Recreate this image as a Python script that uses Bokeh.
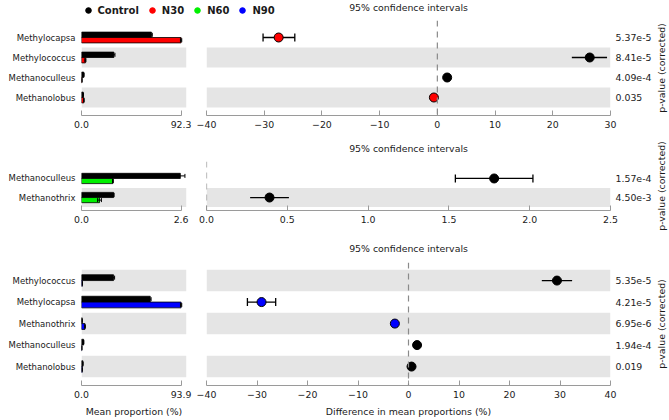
import math
from bokeh.plotting import figure
from bokeh.models import (ColumnDataSource, Range1d, FixedTicker, LinearAxis, Whisker,
                          TeeHead, Span, Legend, LegendItem, Label)
from bokeh.layouts import column, row
from bokeh.embed import file_html
from bokeh.resources import INLINE

# ---------------- data ----------------
groups = ["Control", "N30", "N60", "N90"]
group_colors = ["#000000", "#ff0000", "#00f000", "#0000ff"]

cats1 = ["Methylocapsa", "Methylococcus", "Methanoculleus", "Methanolobus"]
ctrl1 = [64.8, 30.0, 2.1, 1.6]
ctrl1_err = [0.8, 1.0, 0.3, 0.2]
n30 = [92.3, 3.6, 0.4, 2.2]
n30_err = [0.6, 0.5, 0.1, 0.2]
diff1 = [-27.5, 26.4, 1.7, -0.6]
lo1 = [-30.2, 23.3, 1.5, -0.8]
hi1 = [-24.7, 29.4, 1.9, -0.4]
pval1 = ["5.37e-5", "8.41e-5", "4.09e-4", "0.035"]
bar_max1 = 92.3
ci_ticks1 = [-40, -30, -20, -10, 0, 10, 20, 30]

cats2 = ["Methanoculleus", "Methanothrix"]
ctrl2 = [2.58, 0.84]
ctrl2_err = [0.12, 0.01]
n60 = [0.82, 0.47]
n60_err = [0.01, 0.05]
diff2 = [1.78, 0.39]
lo2 = [1.54, 0.27]
hi2 = [2.02, 0.51]
pval2 = ["1.57e-4", "4.50e-3"]
bar_max2 = 2.6
ci_ticks2 = [0.0, 0.5, 1.0, 1.5, 2.0, 2.5]

cats3 = ["Methylococcus", "Methylocapsa", "Methanothrix", "Methanoculleus", "Methanolobus"]
ctrl3 = [30.2, 64.8, 0.6, 2.0, 1.3]
ctrl3_err = [1.0, 0.8, 0.1, 0.2, 0.1]
n90 = [0.8, 93.9, 3.3, 0.3, 0.7]
n90_err = [0.1, 0.6, 0.3, 0.1, 0.1]
diff3 = [29.4, -29.1, -2.7, 1.7, 0.6]
lo3 = [26.4, -31.9, -3.0, 1.5, 0.4]
hi3 = [32.4, -26.3, -2.4, 1.9, 0.8]
pval3 = ["5.35e-5", "4.21e-5", "6.95e-6", "1.94e-4", "0.019"]
bar_max3 = 93.9
ci_ticks3 = [-40, -30, -20, -10, 0, 10, 20, 30, 40]

pval_label = "p-value (corrected)"
ci_title = "95% confidence intervals"
bar_xlabel = "Mean proportion (%)"
ci_xlabel = "Difference in mean proportions (%)"

# ---------------- style / geometry ----------------
FONT = "DejaVu Sans"
TXT = "#1a1a1a"
BAND = "#e5e5e5"
AXC = "#9a9a9a"
TICK_FS = "9.4px"
CAT_FS = "8.5px"
BL, BF, BR = 81, 105, 8
CL, CF, CR = 12, 404, 45
LW = BL + BF + BR + CL + CF + CR      # width of the main column
RW = 14                               # strip holding the rotated p-value labels
XPAD = 105 / 99.6
BAR_H = 0.27

HEAD_H = 18
# (top border, frame height, bottom border) for each panel row
G1 = (2, 95, 20)
S2 = 21
G2 = (5, 49, 20)
S3 = 27
G3 = (5, 123, 34)
TOTAL_H = HEAD_H + sum(G1) + S2 + sum(G2) + S3 + sum(G3)


def fmt_tick(t, dec):
    s = f"{t:.{dec}f}"
    return s.replace("-", "\u2212")


def base_fig(width, height, xr, yr, top, bottom, left, right):
    p = figure(width=width, height=height, x_range=xr, y_range=yr,
               x_axis_type=None, y_axis_type=None, output_backend="svg",
               toolbar_location=None, min_border_left=left, min_border_right=right,
               min_border_top=top, min_border_bottom=bottom)
    p.outline_line_color = None
    p.background_fill_color = "white"
    p.border_fill_color = "white"
    return p


def text_label(x, y, text, angle=0.0, align="center", bold=False, size=TICK_FS):
    return Label(x=x, y=y, x_units="screen", y_units="screen", text=text, angle=angle,
                 text_align=align, text_baseline="middle", text_font=FONT,
                 text_font_size=size, text_color=TXT,
                 text_font_style="bold" if bold else "normal")


def bottom_axis(ticks, labels, bounds=None, xlabel=None):
    ax = LinearAxis(ticker=FixedTicker(ticks=ticks, minor_ticks=[]),
                    major_label_overrides=labels,
                    axis_line_color=AXC, major_tick_line_color=AXC,
                    major_tick_in=5, major_tick_out=0,
                    minor_tick_line_color=None,
                    major_label_standoff=5,
                    major_label_text_font=FONT, major_label_text_font_size=TICK_FS,
                    major_label_text_color=TXT)
    if bounds is not None:
        ax.bounds = bounds
    if xlabel:
        ax.axis_label = xlabel
        ax.axis_label_text_font = FONT
        ax.axis_label_text_font_size = TICK_FS
        ax.axis_label_text_font_style = "normal"
        ax.axis_label_text_color = TXT
        ax.axis_label_standoff = 5
    return ax


def label_axis(ticks, labels, size, standoff):
    return LinearAxis(ticker=FixedTicker(ticks=ticks, minor_ticks=[]),
                      major_label_overrides=labels,
                      axis_line_color=None, major_tick_line_color=None,
                      major_tick_in=0, major_tick_out=0,
                      minor_tick_line_color=None, minor_tick_in=0, minor_tick_out=0,
                      major_label_standoff=standoff,
                      major_label_text_font=FONT, major_label_text_font_size=size,
                      major_label_text_color=TXT)


def bar_fig(cats, ctrl, ctrl_err, trt, trt_err, trt_color, xmax, geom, pt, pb, xlabel=None):
    top, fh, bottom = geom
    n = len(cats)
    idx = list(range(n))
    xend = xmax * XPAD
    p = base_fig(BL + BF + BR, top + fh + bottom, Range1d(0, xend),
                 Range1d(n - 0.5 + pb, -0.5 - pt), top, bottom, BL, BR)
    bands = [i for i in idx if (n - 1 - i) % 2 == 0]
    p.hbar(y=bands, height=1, left=0, right=xend, fill_color=BAND, line_color=None)
    src = ColumnDataSource(dict(
        yc=[i - BAR_H / 2 for i in idx], yt=[i + BAR_H / 2 for i in idx],
        ctrl=ctrl, trt=trt,
        clo=[v - e for v, e in zip(ctrl, ctrl_err)], chi=[v + e for v, e in zip(ctrl, ctrl_err)],
        tlo=[v - e for v, e in zip(trt, trt_err)], thi=[v + e for v, e in zip(trt, trt_err)],
    ))
    p.hbar(y="yc", height=BAR_H, left=0, right="ctrl", source=src,
           fill_color=group_colors[0], line_color="black", line_width=0.8)
    p.hbar(y="yt", height=BAR_H, left=0, right="trt", source=src,
           fill_color=trt_color, line_color="black", line_width=0.8)
    for lo, hi, yy in (("clo", "chi", "yc"), ("tlo", "thi", "yt")):
        w = Whisker(source=src, base=yy, lower=lo, upper=hi, dimension="width",
                    line_color="black", line_width=1,
                    upper_head=TeeHead(size=4, line_color="black", line_width=1),
                    lower_head=TeeHead(size=4, line_color="black", line_width=1))
        w.level = "annotation"
        p.add_layout(w)
    p.add_layout(label_axis(idx, {i: c for i, c in enumerate(cats)}, CAT_FS, 6), "left")
    xa = bottom_axis([0, xmax], {0: "0.0", xmax: f"{xmax:.1f}"}, bounds=(0, xmax), xlabel=xlabel)
    p.add_layout(xa, "below")
    return p


def ci_fig(cats, diff, lo, hi, pvals, trt_color, ticks, dec, geom, pt, pb, xlabel=None):
    top, fh, bottom = geom
    n = len(cats)
    idx = list(range(n))
    x0, x1 = ticks[0], ticks[-1]
    p = base_fig(CL + CF + CR, top + fh + bottom, Range1d(x0, x1),
                 Range1d(n - 0.5 + pb, -0.5 - pt), top, bottom, CL, CR)
    bands = [i for i in idx if (n - 1 - i) % 2 == 0]
    p.hbar(y=bands, height=1, left=x0, right=x1, fill_color=BAND, line_color=None)
    p.add_layout(Span(location=0, dimension="height", line_color="#8a8a8a",
                      line_dash="6 5", line_width=1.2))
    colors = [group_colors[0] if d > 0 else trt_color for d in diff]
    src = ColumnDataSource(dict(y=idx, diff=diff, lo=lo, hi=hi, color=colors))
    p.segment(x0="lo", x1="hi", y0="y", y1="y", source=src, line_color="black", line_width=1.3)
    w = Whisker(source=src, base="y", lower="lo", upper="hi", dimension="width",
                line_color=None,
                upper_head=TeeHead(size=8, line_color="black", line_width=1.3),
                lower_head=TeeHead(size=8, line_color="black", line_width=1.3))
    p.add_layout(w)
    p.scatter(x="diff", y="y", source=src, size=9, fill_color="color",
              line_color="black", line_width=1)
    p.add_layout(label_axis(idx, {i: v for i, v in enumerate(pvals)}, TICK_FS, 5), "right")
    xa = bottom_axis(ticks, {t: fmt_tick(t, dec) for t in ticks}, xlabel=xlabel)
    p.add_layout(xa, "below")
    return p


def strip(height, title_y):
    s = base_fig(LW, height, Range1d(0, 1), Range1d(0, 1), 0, 0, 0, 0)
    s.add_layout(text_label(BL + BF + BR + CL + CF / 2, title_y, ci_title))
    return s


# ---------------- header (legend + first title) ----------------
head = base_fig(LW, HEAD_H, Range1d(0, 1), Range1d(0, 1), 0, 0, 0, 0)
items = []
nan = float("nan")
for g, c in zip(groups, group_colors):
    r = head.scatter(x=[nan], y=[nan], size=7, fill_color=c, line_color=c)
    items.append(LegendItem(label=g, renderers=[r]))
legend = Legend(items=items, orientation="horizontal", location=(80.5, 1),
                glyph_width=14, glyph_height=14, label_height=14, label_standoff=3,
                spacing=6, padding=0, margin=0, border_line_color=None,
                background_fill_alpha=0, label_text_font=FONT, label_text_font_size="10px",
                label_text_font_style="bold", label_text_color=TXT)
head.add_layout(legend)
head.add_layout(text_label(BL + BF + BR + CL + CF / 2, 11, ci_title))

# ---------------- panels ----------------
b1 = bar_fig(cats1, ctrl1, ctrl1_err, n30, n30_err, group_colors[1], bar_max1, G1, 0.35, 0.4)
c1 = ci_fig(cats1, diff1, lo1, hi1, pval1, group_colors[1], ci_ticks1, 0, G1, 0.35, 0.4)
st2 = strip(S2, 8)
b2 = bar_fig(cats2, ctrl2, ctrl2_err, n60, n60_err, group_colors[2], bar_max2, G2, 0.39, 0.18)
c2 = ci_fig(cats2, diff2, lo2, hi2, pval2, group_colors[2], ci_ticks2, 1, G2, 0.39, 0.18)
st3 = strip(S3, 9)
b3 = bar_fig(cats3, ctrl3, ctrl3_err, n90, n90_err, group_colors[3], bar_max3, G3, 0.34, 0.38,
             xlabel=bar_xlabel)
c3 = ci_fig(cats3, diff3, lo3, hi3, pval3, group_colors[3], ci_ticks3, 0, G3, 0.34, 0.38,
            xlabel=ci_xlabel)

# ---------------- right strip with the rotated p-value labels ----------------
side = base_fig(RW, TOTAL_H, Range1d(0, 1), Range1d(0, 1), 0, 0, 0, 0)
centres = []
y_top = HEAD_H
centres.append(y_top + G1[0] + G1[1] / 2)
y_top += sum(G1) + S2
centres.append(y_top + G2[0] + G2[1] / 2)
y_top += sum(G2) + S3
centres.append(y_top + G3[0] + G3[1] / 2)
for cy in centres:
    side.add_layout(text_label(6, TOTAL_H - cy, pval_label, angle=math.pi / 2))

main = column(head, row(b1, c1, spacing=0), st2, row(b2, c2, spacing=0), st3,
              row(b3, c3, spacing=0), spacing=0)
layout = row(main, side, spacing=0)

open("out.html", "w").write(file_html(layout, INLINE))
